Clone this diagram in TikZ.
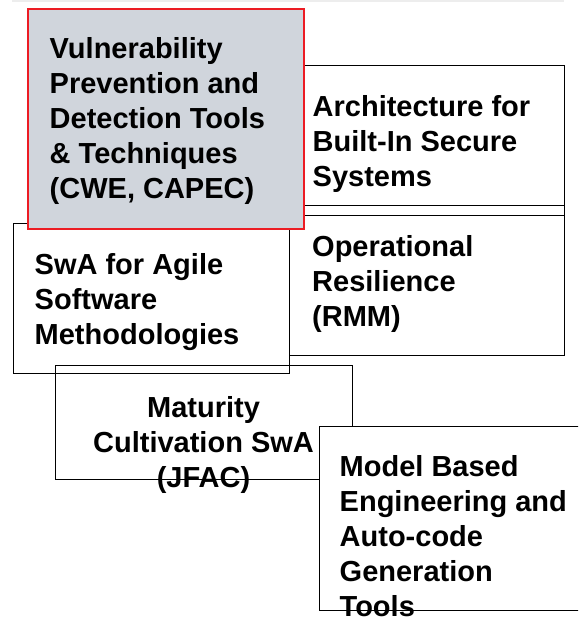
\documentclass[tikz,border=0pt]{standalone}
\usepackage{fontspec}
\setmainfont{Liberation Sans}
\definecolor{vfill}{RGB}{208,213,220}
\definecolor{vred}{RGB}{236,28,36}
\begin{document}
\begin{tikzpicture}[x=1pt,y=-1pt,
  box/.style={draw=black,line width=1.4pt,inner sep=0pt,anchor=north west},
  txt/.style={inner sep=0pt,anchor=north west,align=left,font=\fontsize{29}{35}\selectfont\bfseries},
  ctxt/.style={inner sep=0pt,anchor=north,align=center,font=\fontsize{29}{35}\selectfont\bfseries}]
\useasboundingbox (0,0) rectangle (578,620);
\fill[black!7] (12,0) rectangle (564,2.5);
% boxes
\node[box,minimum width=275pt,minimum height=150pt] (oper) at (289,205) {};
\node[box,minimum width=261pt,minimum height=150pt] (arch) at (303,65) {};
\node[box,minimum width=276pt,minimum height=150pt] (swa) at (13,223) {};
\node[box,minimum width=297pt,minimum height=114pt] (mat) at (55,365) {};
\node[ctxt] (mattxt) at (203.5,392.5) {\strut Maturity\\Cultivation SwA\\(JFAC)};
\begin{scope}
\clip (0,0) rectangle (578,620);
\node[box,fill=white,minimum width=280pt,minimum height=184pt] (mbe) at (319,426) {};
\end{scope}
\node[box,draw=vred,fill=vfill,line width=1.8pt,minimum width=276pt,minimum height=220pt] (vuln) at (27,8) {};
% texts
\node[txt] (vulntxt) at (49.5,33.5) {\strut Vulnerability\\Prevention and\\Detection Tools\\\& Techniques\\(CWE, CAPEC)};
\node[txt] (archtxt) at (312.5,92) {\strut Architecture for\\Built-In Secure\\Systems};
\node[txt] (opertxt) at (312,232) {\strut Operational\\Resilience\\(RMM)};
\node[txt] (swatxt) at (34.5,250) {\strut SwA for Agile\\Software\\Methodologies};
\node[txt] (mbetxt) at (339.5,451.5) {\strut Model Based\\Engineering and\\Auto-code\\Generation\\Tools};
\end{tikzpicture}
\end{document}
